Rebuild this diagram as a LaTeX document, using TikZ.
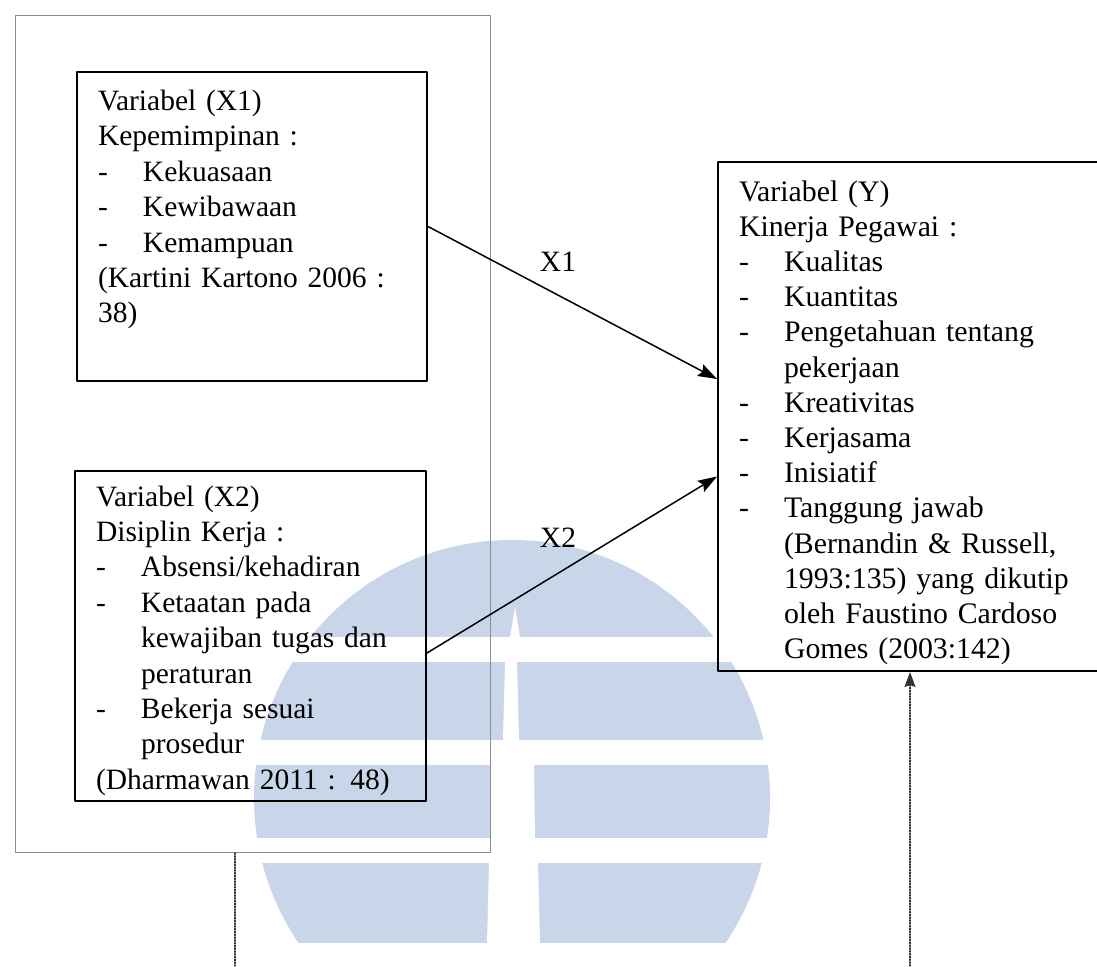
\documentclass[tikz,border=0pt]{standalone}
\usepackage{fontspec}
\setmainfont{Liberation Serif}
\usetikzlibrary{arrows.meta,positioning}
\definecolor{umnblue}{RGB}{201,214,233}
\definecolor{framegray}{RGB}{140,140,140}
\tikzset{
  every picture/.style={line join=round, line cap=round, >=Stealth},
  varbox/.style={draw, line width=2pt, anchor=north west, align=left, inner xsep=21pt, inner ysep=0pt, font=\fontsize{29.5}{35.4}\selectfont},
  frame/.style={draw=framegray, line width=0.9pt, anchor=north west, inner sep=0pt},
  link/.style={->, line width=1.5pt, >={Stealth[length=19pt,width=13pt,inset=3pt]}},
  dotlink/.style={line width=1.2pt, draw=black!80, dash pattern=on 1.4pt off 1.4pt},
  lbl/.style={font=\fontsize{29.5}{35.4}\selectfont},
}
\newcommand{\itm}[1]{\makebox[45pt][l]{-}#1}
\newcommand{\cnt}[1]{\hspace*{45pt}#1}

\begin{document}
\begin{tikzpicture}[x=1pt,y=-1pt]
\useasboundingbox (0,0) rectangle (1097,966);
\begin{scope}
\clip (512,798) circle (258);
\fill[umnblue] (250,530) rectangle (780,637);
\fill[umnblue] (250,662) rectangle (780,740);
\fill[umnblue] (250,765) rectangle (780,838);
\fill[umnblue] (250,863) rectangle (780,943);
\fill[white] (515,607) -- (520,637) -- (510,637) -- cycle;
\fill[white] (505,662) -- (517,662) -- (519,740) -- (503,740) -- cycle;
\fill[white] (491,765) -- (534,765) -- (535,838) -- (490,838) -- cycle;
\fill[white] (489,863) -- (538,863) -- (540,943) -- (487,943) -- cycle;
\end{scope}
\node[frame, minimum width=475pt, minimum height=837pt] (outer) at (15,15) {};
\node[varbox, text width=308pt, text height=38.5pt, text depth=270.5pt] (x1) at (76,71) {Variabel (X1)\\ Kepemimpinan :\\ \itm{Kekuasaan}\\ \itm{Kewibawaan}\\ \itm{Kemampuan}\\ (Kartini Kartono 2006 :\\ 38)};
\node[varbox, text width=309pt, text height=35pt, text depth=295pt] (x2) at (74,470) {Variabel (X2)\\ Disiplin Kerja :\\ \itm{Absensi/kehadiran}\\ \itm{Ketaatan pada}\\ \cnt{kewajiban tugas dan}\\ \cnt{peraturan}\\ \itm{Bekerja sesuai}\\ \cnt{prosedur}\\ (Dharmawan 2011 : 48)};
\node[varbox, text width=360pt, text height=39pt, text depth=470pt, font=\fontsize{29.8}{35.2}\selectfont] (y) at (717,161) {Variabel (Y)\\ Kinerja Pegawai :\\ \itm{Kualitas}\\ \itm{Kuantitas}\\ \itm{Pengetahuan tentang}\\ \cnt{pekerjaan}\\ \itm{Kreativitas}\\ \itm{Kerjasama}\\ \itm{Inisiatif}\\ \itm{Tanggung jawab}\\ \cnt{(Bernandin \& Russell,}\\ \cnt{1993:135) yang dikutip}\\ \cnt{oleh Faustino Cardoso}\\ \cnt{Gomes (2003:142)}};
\draw[link] (x1.east) -- ([yshift=37.5pt]y.west);
\draw[link] ([yshift=-17pt]x2.east) -- ([yshift=-60pt]y.west);
\node[lbl] (lx1) at (558,262) {X1};
\node[lbl] (lx2) at (558,538) {X2};
\coordinate (lfoot) at (235,966);
\coordinate (rfoot) at (910,966);
\draw[dotlink] (outer.south -| lfoot) -- (lfoot);
\draw[dotlink, ->, >={Stealth[length=15pt,width=11pt,inset=2pt]}] (rfoot) -- (rfoot |- y.south);
\end{tikzpicture}
\end{document}
